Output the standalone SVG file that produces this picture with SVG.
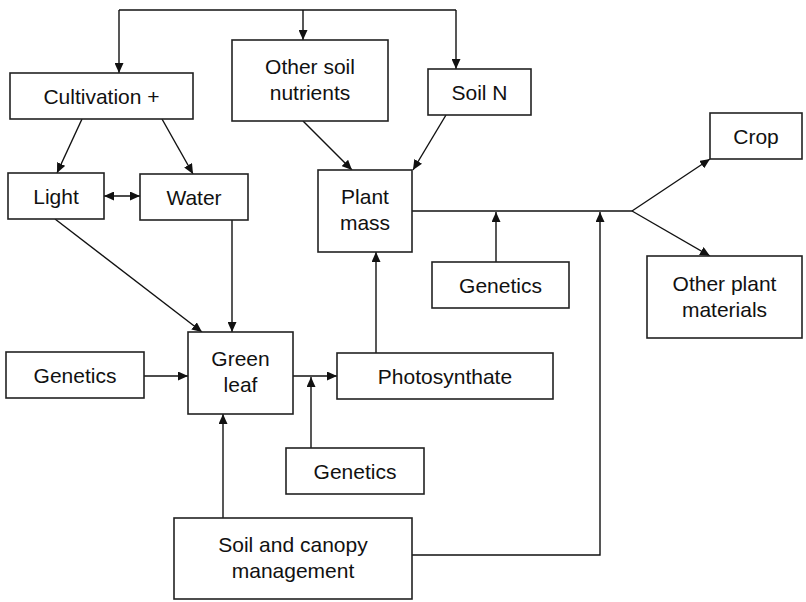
<svg xmlns="http://www.w3.org/2000/svg" width="806" height="602" viewBox="0 0 806 602">
<defs>
<marker id="ah" markerUnits="userSpaceOnUse" markerWidth="11" markerHeight="9" refX="10" refY="4.5" orient="auto-start-reverse" viewBox="0 0 11 9">
<path d="M0,0 L10,4.5 L0,9 Z" fill="#111"/>
</marker>
<style>
.box{fill:#fff;stroke:#222;stroke-width:1.6}
.t{font-family:"Liberation Sans",Arial,Helvetica,sans-serif;font-size:21px;fill:#111;text-anchor:middle}
.c{fill:none;stroke:#111;stroke-width:1.4}
.a{marker-end:url(#ah)}
</style>
</defs>
<rect width="806" height="602" fill="#fff"/>
<g id="connectors">
<path class="c" d="M119,10 H456"/>
<path class="c a" d="M119,10 V73"/>
<path class="c a" d="M303,10 V40"/>
<path class="c a" d="M456,10 V69"/>
<path class="c a" d="M82,119 L57,173"/>
<path class="c a" d="M162,119 L193,174"/>
<path class="c a" d="M104,196 H140" marker-start="url(#ah)"/>
<path class="c a" d="M55,219 L202,332"/>
<path class="c a" d="M232,220 V332"/>
<path class="c a" d="M303,121 L352,170"/>
<path class="c a" d="M446,115 L413,170"/>
<path class="c a" d="M144,376 H188"/>
<path class="c a" d="M293,376 H337"/>
<path class="c a" d="M311,448 V377"/>
<path class="c a" d="M223,518 V414"/>
<path class="c a" d="M376,353 V252"/>
<path class="c" d="M412,211 H632"/>
<path class="c a" d="M496,262 V212"/>
<path class="c a" d="M412,555 H600 V212"/>
<path class="c a" d="M632,211 L710,159"/>
<path class="c a" d="M632,211 L710,256"/>
</g>
<g id="cultivation"><rect class="box" x="10" y="73" width="183" height="46"/><text class="t" x="101.5" y="103.5">Cultivation +</text></g>
<g id="other-soil"><rect class="box" x="232" y="40" width="156" height="81"/><text class="t" x="310" y="74">Other soil</text><text class="t" x="310" y="100">nutrients</text></g>
<g id="soil-n"><rect class="box" x="428" y="69" width="103" height="46"/><text class="t" x="479.5" y="99.5">Soil N</text></g>
<g id="light"><rect class="box" x="8" y="173" width="96" height="46"/><text class="t" x="56" y="203.5">Light</text></g>
<g id="water"><rect class="box" x="140" y="174" width="108" height="46"/><text class="t" x="194" y="204.5">Water</text></g>
<g id="plant-mass"><rect class="box" x="318" y="170" width="94" height="82"/><text class="t" x="365" y="204">Plant</text><text class="t" x="365" y="230">mass</text></g>
<g id="crop"><rect class="box" x="710" y="113" width="92" height="46"/><text class="t" x="756" y="143.5">Crop</text></g>
<g id="other-plant"><rect class="box" x="647" y="256" width="155" height="82"/><text class="t" x="724.5" y="291">Other plant</text><text class="t" x="724.5" y="317">materials</text></g>
<g id="genetics-mid"><rect class="box" x="432" y="262" width="137" height="46"/><text class="t" x="500.5" y="292.5">Genetics</text></g>
<g id="genetics-left"><rect class="box" x="6" y="352" width="138" height="46"/><text class="t" x="75" y="382.5">Genetics</text></g>
<g id="green-leaf"><rect class="box" x="188" y="332" width="105" height="82"/><text class="t" x="240.5" y="366">Green</text><text class="t" x="240.5" y="392">leaf</text></g>
<g id="photosynthate"><rect class="box" x="337" y="353" width="216" height="46"/><text class="t" x="445" y="383.5">Photosynthate</text></g>
<g id="genetics-bottom"><rect class="box" x="286" y="448" width="138" height="46"/><text class="t" x="355" y="478.5">Genetics</text></g>
<g id="soil-canopy"><rect class="box" x="174" y="518" width="238" height="81"/><text class="t" x="293" y="552">Soil and canopy</text><text class="t" x="293" y="578">management</text></g>
</svg>
